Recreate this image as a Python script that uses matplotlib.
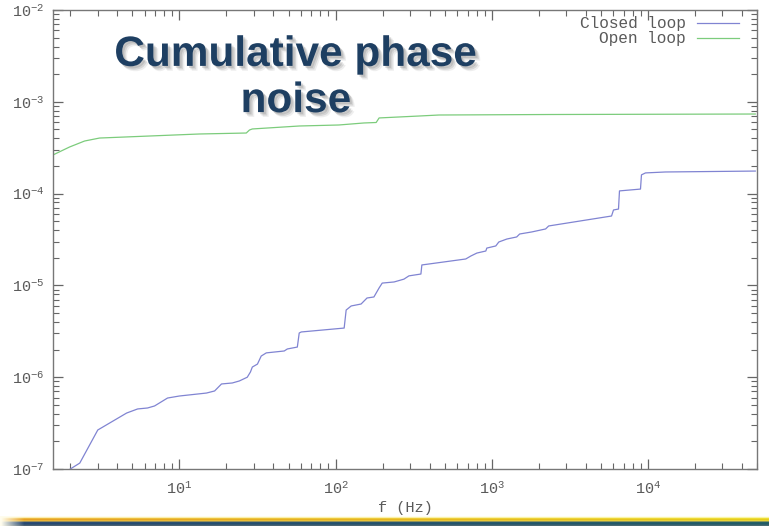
import numpy as np
import matplotlib
matplotlib.use("Agg")
import matplotlib.pyplot as plt
import matplotlib.patheffects as pe
from matplotlib.ticker import LogLocator, FuncFormatter, NullFormatter

# ---------------- data ----------------
closed_f = [2.0, 2.30, 3.0, 4.59, 5.40, 6.25, 6.93, 8.39, 10.0, 14.9, 16.8, 18.6,
            21.8, 24.2, 27.2, 28.5, 29.3, 31.6, 33.4, 36.0, 46.9, 49.1, 56.9, 58.5,
            60.3, 113.5, 116.9, 125.9, 145.7, 159, 176, 190, 199, 237, 274, 295,
            352, 357, 682, 735, 803, 917, 930, 1062, 1110, 1250, 1445, 1510, 1803,
            2214, 2316, 5853, 6025, 6486, 6580, 8970, 9100, 9660, 12970, 48750]
closed_v = [1.0e-7, 1.16e-7, 2.66e-7, 4.07e-7, 4.51e-7, 4.62e-7, 4.86e-7, 5.93e-7,
            6.24e-7, 6.72e-7, 7.08e-7, 8.44e-7, 8.65e-7, 9.1e-7, 1.0e-6, 1.14e-6,
            1.29e-6, 1.39e-6, 1.70e-6, 1.84e-6, 1.93e-6, 2.03e-6, 2.13e-6, 3.03e-6,
            3.11e-6, 3.43e-6, 5.39e-6, 5.97e-6, 6.27e-6, 7.29e-6, 7.48e-6, 9.38e-6,
            1.06e-5, 1.09e-5, 1.17e-5, 1.27e-5, 1.33e-5, 1.67e-5, 1.94e-5, 2.09e-5,
            2.25e-5, 2.37e-5, 2.55e-5, 2.69e-5, 2.97e-5, 3.20e-5, 3.37e-5, 3.63e-5,
            3.82e-5, 4.12e-5, 4.44e-5, 5.70e-5, 6.63e-5, 6.79e-5, 1.07e-4, 1.12e-4,
            1.60e-4, 1.68e-4, 1.72e-4, 1.76e-4]

open_f = [1.545, 1.98, 2.47, 3.08, 6.44, 13.4, 26.8, 28.1, 29.3, 58.5, 105, 152,
          182, 190, 342, 459, 2316, 48750]
open_v = [2.63e-4, 3.22e-4, 3.74e-4, 4.03e-4, 4.24e-4, 4.46e-4, 4.57e-4, 4.93e-4,
          5.06e-4, 5.45e-4, 5.59e-4, 5.88e-4, 5.95e-4, 6.67e-4, 7.0e-4, 7.18e-4,
          7.27e-4, 7.36e-4]

series_labels = ["Closed loop", "Open loop"]
title_text = "Cumulative phase\nnoise"
xlabel_text = "f (Hz)"
x_limits = (1.55, 50000)
y_limits = (1e-7, 1e-2)

# ---------------- figure ----------------
plt.rcParams['mathtext.fontset'] = 'custom'
plt.rcParams['mathtext.rm'] = 'Liberation Mono'
plt.rcParams['mathtext.it'] = 'Liberation Mono'

W, H = 769, 526
fig = plt.figure(figsize=(W / 100, H / 100), dpi=100)
fig.patch.set_facecolor('white')

# bottom decorative bar
bar_ax = fig.add_axes([0, 0, 1, 10 / H])
bar_ax.set_axis_off()
nx = 300
t = np.linspace(0, 1, nx)
left_cols = [(1.0, 0.99, 0.93), (0.99, 0.93, 0.70), (0.93, 0.72, 0.25), (0.90, 0.62, 0.15),
             (0.93, 0.70, 0.20), (0.60, 0.55, 0.35), (0.18, 0.30, 0.45), (0.15, 0.28, 0.45),
             (0.20, 0.32, 0.45), (0.30, 0.38, 0.45)]
right_cols = [(1.0, 1.0, 0.93), (0.98, 0.96, 0.65), (0.93, 0.87, 0.20), (0.90, 0.80, 0.12),
              (0.92, 0.84, 0.20), (0.55, 0.60, 0.35), (0.15, 0.38, 0.40), (0.13, 0.36, 0.40),
              (0.18, 0.38, 0.42), (0.28, 0.42, 0.45)]
img = np.zeros((len(left_cols), nx, 3))
for i, (lc, rc) in enumerate(zip(left_cols, right_cols)):
    for k in range(3):
        img[i, :, k] = lc[k] + (rc[k] - lc[k]) * t
fade = np.clip(t / 0.03, 0, 1)[None, :, None]
img = img * fade + (1 - fade) * np.array([1.0, 0.99, 0.93])[None, None, :]
img = np.clip(img, 0, 1)
bar_ax.imshow(img, aspect='auto', interpolation='bilinear', extent=[0, 1, 0, 1])
bar_ax.set_xlim(0, 1)
bar_ax.set_ylim(0, 1)

ax = fig.add_axes([53 / W, (H - 469) / H, (757 - 53) / W, (469 - 10) / H])
ax.set_xscale('log')
ax.set_yscale('log')
ax.plot(closed_f, closed_v, color='#8084d2', lw=0.9, label=series_labels[0])
ax.plot(open_f, open_v, color='#7ccc7c', lw=0.9, label=series_labels[1])
ax.set_xlim(*x_limits)
ax.set_ylim(*y_limits)

grey = '#5a5a5a'
for s in ax.spines.values():
    s.set_color('#777777')
    s.set_linewidth(1.0)

ax.xaxis.set_major_locator(LogLocator(base=10, numticks=20))
ax.xaxis.set_minor_locator(LogLocator(base=10, subs=np.arange(2, 10), numticks=20))
ax.yaxis.set_major_locator(LogLocator(base=10, numticks=20))
ax.yaxis.set_minor_locator(LogLocator(base=10, subs=np.arange(2, 10), numticks=20))

def fmt(v, pos):
    e = int(np.round(np.log10(v)))
    return r'$10^{%d}$' % e

ax.xaxis.set_major_formatter(FuncFormatter(fmt))
ax.yaxis.set_major_formatter(FuncFormatter(fmt))
ax.xaxis.set_minor_formatter(NullFormatter())
ax.yaxis.set_minor_formatter(NullFormatter())
ax.tick_params(which='both', direction='in', top=True, right=True, colors='#666666',
               labelcolor=grey, labelsize=11)
ax.tick_params(which='major', length=7, width=0.9, pad=8)
ax.tick_params(which='minor', length=4, width=0.8)
ax.tick_params(axis='y', which='major', pad=6)

ax.set_xlabel(xlabel_text, family='Liberation Mono', fontsize=11, color=grey, labelpad=3)

leg = ax.legend(loc='upper right', frameon=False, markerfirst=False,
                prop={'family': 'Liberation Mono', 'size': 11.6}, handlelength=2.6,
                handletextpad=0.7, labelspacing=0.0, borderaxespad=0.0,
                bbox_to_anchor=(0.983, 1.0))
for txt in leg.get_texts():
    txt.set_color(grey)

fig.text(296 / W, 1 - 78 / H, title_text, ha='center', va='center',
         fontsize=30.5, fontweight='bold', family='Liberation Sans', color='#1e3f62',
         linespacing=1.2,
         path_effects=[pe.SimplePatchShadow(offset=(3.5, -3.5), shadow_rgbFace='#777777', alpha=0.12),
                       pe.SimplePatchShadow(offset=(2.5, -2.5), shadow_rgbFace='#777777', alpha=0.2),
                       pe.SimplePatchShadow(offset=(1.5, -1.5), shadow_rgbFace='#777777', alpha=0.25),
                       pe.Normal()])

fig.savefig('out.png', dpi=100)
